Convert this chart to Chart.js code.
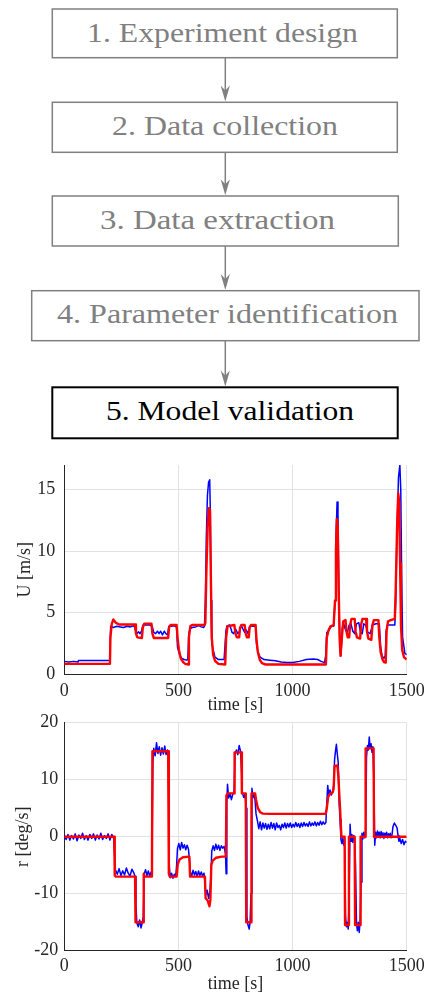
<!DOCTYPE html>
<html>
<head>
<meta charset="utf-8">
<script src="https://cdn.jsdelivr.net/npm/chart.js@4.4.1/dist/chart.umd.min.js"></script>
<style>
  html, body { margin: 0; padding: 0; background: #fff; }
  #page { position: relative; width: 426px; height: 994px; overflow: hidden; background: #fff; }
  #flow { position: absolute; left: 0; top: 0; }
  canvas { position: absolute; left: 0; }
</style>
</head>
<body>
<div id="page">
  <svg id="flow" width="426" height="450" xmlns="http://www.w3.org/2000/svg"></svg>
  <canvas id="speedChart" width="426" height="260" style="top:455px"></canvas>
  <canvas id="yawChart" width="426" height="282" style="top:712px"></canvas>
</div>
<script>
// workflow steps
const steps = [
  "1. Experiment design",
  "2. Data collection",
  "3. Data extraction",
  "4. Parameter identification",
  "5. Model validation"
];

// tick labels
const timeTicks = [0, 500, 1000, 1500];
const speedTicks = [0, 5, 10, 15];
const yawTicks = [-20, -10, 0, 10, 20];

// U [m/s] : measured  [t, U]
const speedMeasured = [
  [0,1.05],[20,1.0],[40,1.05],[60,1.0],[62,1.12],[100,1.12],[150,1.12],[198,1.12],
  [200,1.5],[203,3.9],[215,3.8],[230,3.9],[245,3.85],[260,3.8],[275,3.9],[290,3.85],[305,3.95],
  [312,3.6],[318,3.3],[325,3.45],[332,3.3],[338,3.5],[345,4.0],[360,4.0],[375,4.0],[385,3.9],
  [392,3.4],[400,3.3],[408,3.5],[415,3.3],[422,3.5],[430,3.2],[438,3.5],[445,3.3],[452,3.2],
  [458,3.9],[470,3.9],[485,3.95],[492,3.8],[496,2.2],[505,1.6],[515,1.3],[525,1.2],[535,1.15],
  [541,1.2],[545,3.2],[550,3.7],[560,3.8],[575,3.85],[590,3.95],[600,3.85],[610,3.8],[614,3.9],
  [618,6],[622,11],[627,14.5],[632,15.6],[637,15.8],[640,13],[643,6],[646,2.5],[652,2],[660,1.4],
  [675,1.2],[690,1.2],[700,1.2],[708,3.5],[712,3.9],[725,4.0],[735,3.4],[742,3.3],[750,3.7],
  [760,3.3],[768,3.5],[775,4.0],[782,3.7],[790,3.4],[797,3.6],[805,3.3],[812,3.9],[825,3.9],
  [838,3.9],[842,2.5],[848,1.8],[858,1.4],[875,1.2],[900,1.15],[925,1.1],[950,1.0],[975,0.95],
  [1000,0.95],[1030,1.05],[1060,1.2],[1090,1.25],[1110,1.2],[1125,1.05],[1140,0.95],[1145,1.5],
  [1150,3.4],[1160,3.6],[1170,3.9],[1180,3.9],[1186,6],[1190,11],[1195,14.0],[1199,13],[1203,6],
  [1208,2],[1212,1.5],[1218,3.8],[1224,4.1],[1232,3.6],[1240,3.4],[1248,4.0],[1256,4.1],[1264,3.5],
  [1272,3.3],[1280,4.1],[1290,4.2],[1298,3.4],[1305,3.3],[1312,4.1],[1320,4.0],[1330,3.4],[1340,3.3],
  [1350,4.0],[1365,4.1],[1380,4.1],[1386,2.2],[1392,1.5],[1400,1.3],[1406,1.5],[1410,3.5],[1415,4.0],
  [1430,4.0],[1448,4.0],[1452,6],[1458,12],[1464,16],[1470,17.0],[1474,15],[1478,8],[1482,3],
  [1486,2.5],[1492,1.7],[1500,1.6]
];

// U [m/s] : model  [t, U]
const speedModel = [
  [0,0.85],[200,0.85],[202,3.0],[208,4.1],[215,4.45],[225,4.2],[240,4.05],[310,4.05],[314,3.3],
  [320,3.0],[340,2.95],[344,3.8],[350,4.1],[382,4.1],[386,3.3],[392,2.95],[455,2.95],[459,3.8],
  [465,4.0],[492,4.0],[496,3.0],[502,2.0],[510,1.3],[520,1.0],[530,0.85],[543,0.8],[546,3.0],
  [552,3.9],[560,4.0],[615,4.0],[618,4.2],[622,8],[628,12],[633,13.5],[638,13.4],[642,8],[646,3],
  [652,1.6],[660,1.1],[675,0.85],[705,0.8],[709,3.0],[715,3.9],[745,4.0],[750,3.3],[756,3.0],
  [766,3.0],[770,3.8],[776,4.0],[790,4.0],[795,3.3],[800,3.0],[808,3.0],[812,3.8],[818,4.0],
  [838,4.0],[842,2.8],[848,1.8],[856,1.2],[866,0.9],[880,0.8],[1146,0.8],[1150,3.0],[1158,3.6],
  [1166,3.9],[1180,4.0],[1186,6],[1190,10],[1194,12.6],[1198,12],[1202,7],[1206,3],[1210,1.5],
  [1216,3.0],[1222,4.3],[1232,4.4],[1236,3.5],[1242,3.0],[1248,3.0],[1252,4.0],[1258,4.5],
  [1272,4.5],[1276,3.5],[1282,3.0],[1296,2.9],[1300,4.0],[1306,4.5],[1322,4.5],[1326,3.5],
  [1332,2.9],[1345,2.8],[1350,4.0],[1356,4.4],[1376,4.4],[1380,3.0],[1386,1.8],[1394,1.2],
  [1400,1.0],[1408,0.95],[1412,3.5],[1418,4.3],[1430,4.4],[1448,4.5],[1452,7],[1458,12],
  [1463,14.7],[1467,14],[1471,9],[1475,4],[1480,2],[1488,1.4],[1500,1.2]
];

// r [deg/s] : measured  [t, r]
const yawMeasured = [
  [0,0.3],[8,-0.5],[16,0.4],[24,-0.6],[32,0.2],[40,-0.4],[48,0.5],[56,-0.7],[64,0.3],[72,-0.3],
  [80,0.6],[88,-0.5],[96,0.2],[104,-0.6],[112,0.4],[120,-0.3],[128,0.5],[136,-0.6],[144,0.3],
  [152,-0.4],[160,0.6],[168,-0.5],[176,0.2],[184,-0.3],[192,0.5],[200,-0.6],[208,0.4],[216,-0.2],
  [220,-3],[224,-5.8],[232,-6.6],[240,-5.6],[248,-6.8],[256,-6.0],[264,-6.7],[272,-5.5],[280,-6.4],
  [288,-6.9],[296,-5.7],[304,-6.3],[310,-7.0],[314,-12],[318,-15.2],[324,-15.8],[330,-14.6],
  [336,-16.0],[342,-15.0],[346,-14],[350,-6.5],[356,-5.8],[362,-6.8],[368,-6.0],[374,-6.9],
  [380,-6.2],[384,-5],[388,13],[392,15.5],[398,14.2],[404,16.5],[410,14.6],[416,15.8],[422,14.3],
  [428,15.6],[434,14.5],[440,15.9],[446,14.4],[452,15.2],[456,12],[460,-5],[464,-7.2],[470,-6.4],
  [476,-7.3],[482,-6.6],[488,-7.0],[492,-5],[496,-2.0],[502,-1.2],[508,-2.3],[514,-1.0],[520,-2.0],
  [526,-1.4],[532,-2.3],[538,-1.5],[544,-2.2],[548,-4],[552,-6.2],[558,-6.9],[564,-5.9],[570,-6.7],
  [576,-6.1],[582,-7.0],[588,-6.0],[594,-6.8],[600,-6.2],[606,-6.9],[612,-6.4],[616,-8],[620,-10.2],
  [626,-9.4],[632,-10.8],[638,-9.6],[642,-7],[646,-2.5],[652,-1.6],[658,-2.4],[664,-1.3],[670,-2.2],
  [676,-1.5],[682,-2.4],[688,-1.6],[694,-2.0],[700,-1.7],[706,-3],[709,-6.5],[712,6],[715,9.2],
  [720,6.8],[726,7.6],[732,6.5],[738,7.4],[744,8],[748,14.5],[754,15.2],[760,14.4],[766,16.0],
  [772,15.0],[776,12],[780,7.8],[786,6.9],[792,7.5],[796,5],[800,-14],[804,-15.4],[810,-16.2],
  [814,-15.0],[818,-10],[822,8.5],[826,6.8],[832,7.4],[836,6.2],[840,4],[846,2.8],[852,1.4],
  [858,2.6],[864,1.2],[870,2.4],[876,1.5],[882,2.3],[888,1.3],[894,2.2],[900,1.4],[906,2.5],
  [912,1.5],[918,2.3],[924,1.2],[930,2.4],[936,1.6],[942,2.0],[948,1.2],[954,2.2],[960,1.6],
  [966,2.4],[972,1.5],[978,2.3],[984,1.7],[990,2.4],[996,1.6],[1002,2.2],[1008,1.7],[1014,2.5],
  [1020,1.8],[1026,2.3],[1032,1.6],[1038,2.4],[1044,1.8],[1050,2.5],[1056,1.9],[1062,2.3],
  [1068,1.8],[1074,2.6],[1080,1.9],[1086,2.4],[1092,2.0],[1098,2.6],[1104,1.9],[1110,2.5],
  [1116,2.0],[1122,2.7],[1128,2.1],[1134,2.6],[1140,2.2],[1146,2.5],[1150,6],[1154,9.0],[1158,7.5],
  [1164,8.2],[1170,7.3],[1176,8.0],[1180,9],[1184,13.5],[1188,15.0],[1192,16.2],[1196,14.5],
  [1200,13],[1204,6],[1208,3],[1212,-0.5],[1216,-1.2],[1220,-0.3],[1224,-1.5],[1228,-0.4],
  [1232,-14],[1236,-15.8],[1240,-15.0],[1244,-16.2],[1248,-10],[1252,2.2],[1256,-0.8],[1260,0.4],
  [1264,-1.0],[1268,0.2],[1272,-0.5],[1276,-5],[1280,-15.2],[1284,-16.5],[1288,-15.0],[1292,-16.8],
  [1296,-14.8],[1300,-8],[1304,0.6],[1308,-0.4],[1312,0.8],[1316,-0.2],[1320,0.5],[1324,14],
  [1328,16.0],[1332,15.2],[1336,17.5],[1340,15.5],[1344,16.3],[1348,14.8],[1352,15.8],[1356,10],
  [1360,-1.5],[1364,0.8],[1368,-0.2],[1372,1.0],[1376,0.1],[1380,0.8],[1384,-0.2],[1388,0.9],
  [1392,0.0],[1396,0.7],[1400,-0.3],[1404,0.6],[1408,0.1],[1412,0.8],[1416,-0.2],[1420,0.5],
  [1424,-0.1],[1428,0.6],[1432,-0.2],[1436,0.4],[1440,1.8],[1446,2.4],[1452,2.0],[1458,1.5],
  [1462,0.2],[1466,-0.8],[1470,-0.3],[1476,-1.2],[1482,-0.5],[1488,-1.4],[1494,-0.8],[1500,-1.0]
];

// r [deg/s] : model  [t, r]
const yawModel = [
  [0,0],[219,0],[221,-6.8],[226,-7],[310,-7],[312,-15],[346,-15],[348,-6.5],[352,-7],[384,-7],
  [386,15],[455,15],[458,-6.5],[462,-7],[492,-7],[497,-4.8],[505,-4.0],[520,-3.6],[548,-3.5],
  [551,-7],[616,-7],[619,-10.8],[628,-11.2],[636,-12.2],[640,-11],[644,-5],[650,-4.2],[665,-3.7],
  [690,-3.5],[708,-3.5],[710,7.2],[716,7.6],[744,7.6],[746,14.8],[776,14.8],[778,7.6],[795,7.6],
  [797,-15],[818,-15],[820,7.6],[836,7.6],[840,6.5],[848,5.0],[858,4.3],[870,4.05],[900,4.0],
  [1145,4.0],[1150,5.0],[1156,7.0],[1164,7.5],[1176,7.8],[1180,8.5],[1184,12.4],[1196,12.5],
  [1200,11],[1208,5],[1214,0],[1228,0],[1230,-15.5],[1245,-15.5],[1247,0],[1272,0],[1274,-15.5],
  [1296,-15.5],[1298,0],[1318,0],[1320,15.5],[1355,15.5],[1357,0],[1500,0]
];

const MEAS_COLOR = "#0000ff";
const MODEL_COLOR = "#ff0000";
const INK = "#262626";
const GREY = "#808080";
const SERIF = "'Liberation Serif', 'DejaVu Serif', serif";

/***** FLOW DIAGRAM *****/
// box: left, top, right, bottom, text x, text width
const boxes = [
  [52.3, 9, 397.3, 57.7, 87, 271],
  [52.3, 102.3, 397.3, 152.3, 112, 226],
  [52.3, 196, 398.3, 246, 100, 235],
  [31.7, 290.7, 419, 340.7, 57, 341],
  [52.3, 387.3, 397.7, 438.3, 106, 248]
];

function drawFlow() {
  const svg = document.getElementById("flow");
  const ns = "http://www.w3.org/2000/svg";
  const ax = 225.3;
  for (let i = 0; i < steps.length; i++) {
    const b = boxes[i];
    const active = i == steps.length - 1;
    const color = active ? "#000" : GREY;

    const rect = document.createElementNS(ns, "rect");
    rect.setAttribute("x", b[0]);
    rect.setAttribute("y", b[1]);
    rect.setAttribute("width", b[2] - b[0]);
    rect.setAttribute("height", b[3] - b[1]);
    rect.setAttribute("fill", "none");
    rect.setAttribute("stroke", color);
    rect.setAttribute("stroke-width", active ? 2 : 1.5);
    svg.appendChild(rect);

    const txt = document.createElementNS(ns, "text");
    txt.setAttribute("x", b[4]);
    txt.setAttribute("y", b[1] + 32.7);
    txt.setAttribute("textLength", b[5]);
    txt.setAttribute("lengthAdjust", "spacingAndGlyphs");
    txt.setAttribute("font-family", SERIF);
    txt.setAttribute("font-size", "28");
    txt.setAttribute("fill", color);
    txt.textContent = steps[i];
    svg.appendChild(txt);

    if (i < steps.length - 1) {
      const tip = boxes[i + 1][1] - 0.8;
      const line = document.createElementNS(ns, "line");
      line.setAttribute("x1", ax);
      line.setAttribute("x2", ax);
      line.setAttribute("y1", b[3]);
      line.setAttribute("y2", tip - 8);
      line.setAttribute("stroke", GREY);
      line.setAttribute("stroke-width", 1.5);
      svg.appendChild(line);

      const head = document.createElementNS(ns, "path");
      head.setAttribute("d",
        "M" + ax + " " + tip +
        " L" + (ax - 4.6) + " " + (tip - 16) +
        " L" + ax + " " + (tip - 11) +
        " L" + (ax + 4.6) + " " + (tip - 16) + " Z");
      head.setAttribute("fill", GREY);
      svg.appendChild(head);
    }
  }
}

drawFlow();

/***** CHARTS *****/
function toPoints(pairs) {
  return pairs.map(function (p) { return { x: p[0], y: p[1] }; });
}

function plainLabel(v) {
  return String(v);
}

function makeChart(id, cfg) {
  return new Chart(document.getElementById(id), {
    type: "line",
    data: {
      datasets: [
        { data: toPoints(cfg.model), borderColor: MODEL_COLOR, borderWidth: 2.4, order: 0 },
        { data: toPoints(cfg.measured), borderColor: MEAS_COLOR, borderWidth: 1.5, order: 1 }
      ]
    },
    options: {
      responsive: false,
      animation: false,
      events: [],
      elements: { point: { radius: 0 }, line: { tension: 0, borderJoinStyle: "round" } },
      layout: { padding: { left: 0, right: 19.3, top: cfg.top, bottom: 0 } },
      plugins: { legend: { display: false }, tooltip: { enabled: false } },
      scales: {
        x: {
          type: "linear",
          min: 0,
          max: 1500,
          afterBuildTicks: function (s) { s.ticks = timeTicks.map(function (v) { return { value: v }; }); },
          afterFit: function (s) {
            s.height = cfg.xHeight;
            s.paddingLeft = 0;
            s.paddingRight = 0;
          },
          ticks: { color: INK, font: { family: SERIF, size: 18 }, padding: cfg.xPad, maxRotation: 0, callback: plainLabel },
          grid: { color: "#e2e2e2", lineWidth: 1, drawTicks: false },
          border: { color: INK, width: 1 },
          title: { display: true, text: "time [s]", color: INK, font: { family: SERIF, size: 18, lineHeight: 1.1 }, padding: 0 }
        },
        y: {
          type: "linear",
          min: cfg.yMin,
          max: cfg.yMax,
          afterBuildTicks: function (s) { s.ticks = cfg.yTicks.map(function (v) { return { value: v }; }); },
          afterFit: function (s) {
            s.width = 64.3;
            s.paddingTop = 0;
            s.paddingBottom = 0;
          },
          ticks: { color: INK, font: { family: SERIF, size: 18 }, padding: cfg.yPad, callback: plainLabel },
          grid: { color: "#e2e2e2", lineWidth: 1, drawTicks: false },
          border: { color: INK, width: 1 },
          title: { display: true, text: cfg.yTitle, color: INK, font: { family: SERIF, size: 18, lineHeight: 1.1 }, padding: { top: cfg.titleGap, bottom: 0 } }
        }
      }
    }
  });
}

makeChart("speedChart", {
  measured: speedMeasured,
  model: speedModel,
  yMin: 0, yMax: 17, yTicks: speedTicks,
  yTitle: "U [m/s]",
  top: 10, xHeight: 40.7, xPad: 6, yPad: 9, titleGap: 15
});

makeChart("yawChart", {
  measured: yawMeasured,
  model: yawModel,
  yMin: -20, yMax: 20, yTicks: yawTicks,
  yTitle: "r [deg/s]",
  top: 10.7, xHeight: 43.3, xPad: 5, yPad: 6, titleGap: 13
});
</script>
</body>
</html>
